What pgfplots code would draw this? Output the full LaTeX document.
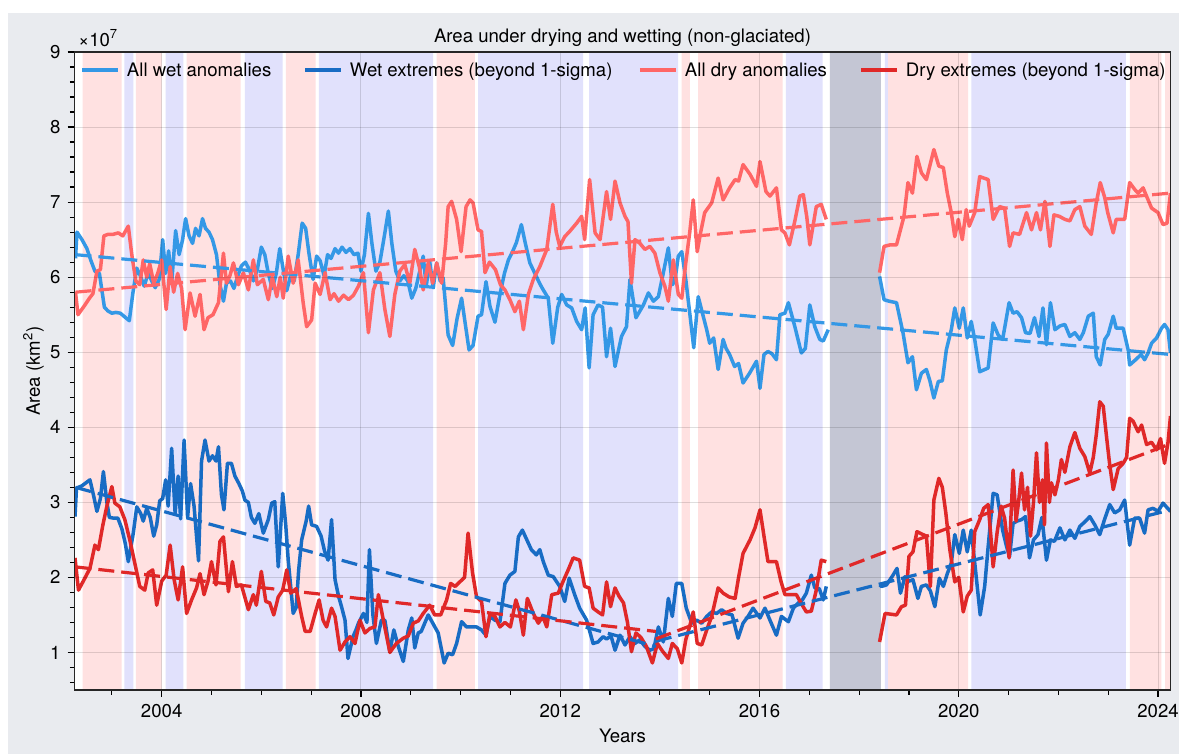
\documentclass[border=0pt]{standalone}
\usepackage{fontspec}
\setmainfont{TeX Gyre Heros}
\usepackage{pgfplots}
\usepackage{pgfplotstable}
\pgfplotsset{compat=1.18}
\definecolor{cA}{RGB}{52,152,230}
\definecolor{cB}{RGB}{24,108,196}
\definecolor{cC}{RGB}{255,102,102}
\definecolor{cD}{RGB}{224,40,40}
\definecolor{pk}{RGB}{255,225,225}
\definecolor{lv}{RGB}{225,225,252}
\definecolor{gy}{RGB}{196,198,212}
\definecolor{bgc}{RGB}{233,235,239}
\newcommand{\fs}{\fontsize{9.3}{11.2}\selectfont}
\newcommand{\region}[3]{\addplot[draw=none, fill=#3, forget plot] coordinates {(#1,0) (#1,10) (#2,10) (#2,0)} \closedcycle;}

\pgfplotstableread{
x y
2002.27 6.25
2002.30 6.60
2002.40 6.50
2002.50 6.38
2002.58 6.22
2002.66 6.08
2002.75 6.05
2002.85 5.60
2002.92 5.55
2003.00 5.52
2003.08 5.53
2003.17 5.52
2003.26 5.47
2003.35 5.42
2003.42 5.78
2003.50 6.12
2003.57 6.02
2003.65 5.88
2003.73 6.06
2003.80 5.95
2003.87 5.86
2003.95 5.97
2004.02 6.50
2004.08 6.05
2004.14 6.35
2004.20 5.92
2004.28 6.62
2004.35 6.30
2004.42 6.50
2004.48 6.78
2004.55 6.55
2004.62 6.45
2004.68 6.65
2004.75 6.55
2004.82 6.78
2004.88 6.65
2004.95 6.60
2005.02 6.50
2005.10 6.30
2005.17 5.90
2005.24 5.68
2005.30 5.92
2005.38 5.95
2005.45 5.85
2005.52 6.00
2005.60 6.15
2005.68 6.20
2005.76 6.10
2005.84 5.95
2005.92 6.10
2006.00 6.40
2006.07 6.30
2006.14 6.05
2006.22 5.85
2006.30 6.05
2006.37 6.38
2006.44 6.10
2006.51 5.82
2006.58 6.00
2006.66 5.95
2006.74 6.30
2006.82 6.72
2006.89 6.65
2006.96 6.30
2007.04 5.97
2007.11 6.28
2007.18 6.22
2007.26 6.02
2007.33 6.30
2007.40 6.25
2007.48 6.38
2007.55 6.32
2007.62 6.40
2007.70 6.33
2007.78 6.38
2007.86 6.30
2007.94 6.32
2008.00 6.08
2008.07 6.30
2008.15 6.85
2008.22 6.45
2008.30 6.08
2008.38 6.20
2008.47 6.55
2008.55 6.88
2008.62 6.45
2008.70 6.08
2008.78 5.95
2008.86 6.02
2008.94 5.95
2009.02 5.72
2009.10 5.85
2009.17 6.05
2009.25 6.28
2009.31 5.88
2009.38 6.21
2009.45 5.86
2009.52 6.19
2009.59 5.95
2009.65 5.99
2009.75 5.23
2009.84 5.09
2009.93 5.45
2010.02 5.72
2010.10 5.35
2010.17 5.03
2010.25 5.09
2010.35 5.48
2010.42 5.50
2010.51 5.94
2010.59 5.61
2010.69 5.40
2010.79 5.77
2010.88 6.05
2010.96 6.23
2011.05 6.35
2011.12 6.46
2011.22 6.70
2011.30 6.45
2011.39 6.19
2011.52 6.01
2011.60 5.90
2011.66 5.83
2011.76 5.72
2011.85 5.12
2011.95 5.60
2012.03 5.77
2012.13 5.63
2012.23 5.59
2012.33 5.41
2012.43 5.30
2012.50 5.59
2012.58 4.79
2012.66 5.50
2012.76 5.63
2012.85 5.60
2012.93 4.94
2013.01 5.32
2013.10 4.81
2013.23 5.21
2013.33 5.34
2013.40 5.97
2013.52 5.46
2013.60 5.55
2013.67 5.63
2013.77 5.79
2013.87 5.68
2013.97 5.74
2014.07 6.06
2014.17 6.39
2014.25 5.90
2014.30 5.95
2014.37 6.28
2014.44 6.34
2014.52 5.97
2014.60 5.52
2014.68 5.06
2014.77 5.74
2014.87 5.48
2014.94 5.30
2015.00 5.12
2015.08 5.19
2015.17 4.77
2015.27 5.17
2015.33 5.05
2015.40 4.97
2015.50 4.81
2015.58 4.85
2015.67 4.59
2015.80 4.72
2015.94 4.88
2016.01 4.52
2016.09 4.97
2016.17 5.01
2016.25 4.98
2016.34 4.90
2016.41 5.50
2016.51 5.52
2016.58 5.66
2016.71 5.34
2016.84 4.99
2016.92 5.05
2017.01 5.63
2017.11 5.34
2017.21 5.17
2017.28 5.15
2017.38 5.30
2017.90 nan
2018.41 6.01
2018.50 5.70
2018.60 5.68
2018.75 5.66
2018.88 5.26
2018.98 4.86
2019.07 4.94
2019.15 4.50
2019.25 4.72
2019.35 4.77
2019.42 4.62
2019.50 4.39
2019.59 4.61
2019.67 4.62
2019.75 5.03
2019.85 5.30
2019.92 5.59
2020.01 5.32
2020.09 5.59
2020.17 5.19
2020.25 5.41
2020.32 5.17
2020.42 4.74
2020.59 4.79
2020.69 5.39
2020.79 5.23
2020.88 5.17
2021.01 5.66
2021.09 5.52
2021.17 5.54
2021.26 5.46
2021.34 5.26
2021.43 5.25
2021.52 5.46
2021.61 5.21
2021.69 5.59
2021.76 5.10
2021.84 5.66
2021.93 5.30
2022.03 5.35
2022.13 5.37
2022.23 5.21
2022.33 5.26
2022.43 5.17
2022.50 5.26
2022.60 5.48
2022.70 5.52
2022.76 4.94
2022.84 4.83
2022.93 5.17
2023.00 5.24
2023.10 5.48
2023.16 5.32
2023.30 5.32
2023.40 5.03
2023.43 4.83
2023.55 4.90
2023.66 4.97
2023.73 4.90
2023.80 4.99
2023.87 5.12
2023.97 5.19
2024.07 5.32
2024.13 5.37
2024.20 5.30
2024.25 4.99
}\tA

\pgfplotstableread{
x y
2002.26 2.81
2002.29 3.19
2002.40 3.22
2002.50 3.27
2002.56 3.30
2002.63 3.10
2002.70 2.88
2002.77 3.05
2002.83 3.41
2002.90 3.00
2002.95 2.80
2003.03 2.79
2003.12 2.79
2003.20 2.65
2003.27 2.45
2003.33 2.21
2003.43 2.59
2003.50 2.94
2003.58 2.85
2003.63 2.75
2003.70 2.92
2003.77 2.80
2003.84 2.55
2003.90 2.70
2003.96 3.02
2004.02 3.05
2004.08 3.30
2004.13 2.95
2004.20 3.72
2004.27 2.85
2004.33 3.35
2004.38 2.78
2004.45 3.83
2004.52 2.80
2004.58 3.25
2004.65 2.95
2004.74 2.22
2004.80 3.55
2004.87 3.83
2004.95 3.55
2005.02 3.62
2005.09 3.55
2005.14 3.74
2005.20 3.10
2005.25 2.90
2005.32 3.52
2005.40 3.52
2005.47 3.35
2005.55 3.25
2005.62 3.15
2005.67 3.03
2005.74 3.00
2005.80 2.80
2005.87 2.72
2005.95 2.85
2006.04 2.59
2006.14 2.77
2006.21 2.99
2006.27 3.01
2006.34 2.14
2006.43 3.12
2006.49 2.70
2006.54 2.23
2006.64 1.52
2006.70 1.60
2006.75 2.10
2006.81 2.50
2006.90 2.75
2006.95 2.95
2007.01 2.70
2007.11 2.68
2007.20 2.55
2007.27 2.35
2007.34 2.23
2007.41 2.77
2007.48 1.97
2007.55 1.75
2007.61 1.61
2007.68 1.43
2007.74 0.92
2007.84 1.21
2007.90 1.30
2007.95 1.39
2008.05 1.52
2008.12 1.40
2008.17 2.37
2008.24 1.50
2008.31 1.12
2008.41 1.43
2008.48 1.43
2008.58 1.01
2008.66 1.30
2008.75 1.08
2008.85 0.88
2008.95 1.30
2009.02 1.46
2009.08 1.06
2009.15 1.26
2009.21 1.28
2009.28 1.39
2009.35 1.50
2009.45 1.38
2009.55 1.26
2009.67 0.86
2009.75 0.99
2009.84 0.97
2009.92 1.12
2010.02 1.41
2010.12 1.34
2010.22 1.34
2010.32 1.34
2010.42 1.30
2010.51 1.23
2010.59 1.48
2010.69 1.43
2010.79 1.41
2010.89 1.92
2010.99 2.03
2011.09 2.08
2011.16 2.54
2011.24 2.63
2011.33 2.50
2011.42 2.37
2011.52 2.30
2011.59 2.37
2011.66 2.21
2011.76 2.03
2011.86 2.01
2011.99 1.88
2012.09 1.68
2012.18 1.99
2012.29 1.77
2012.39 1.59
2012.53 1.43
2012.66 1.12
2012.76 1.14
2012.86 1.21
2012.93 1.18
2013.02 1.22
2013.10 1.03
2013.20 1.23
2013.30 1.10
2013.40 1.21
2013.50 1.12
2013.60 1.17
2013.70 1.08
2013.80 1.03
2013.88 1.05
2013.97 1.34
2014.07 1.14
2014.17 1.72
2014.25 1.48
2014.33 1.92
2014.44 1.92
2014.53 1.59
2014.64 1.39
2014.74 1.43
2014.84 1.39
2014.94 1.48
2015.04 1.54
2015.14 1.52
2015.24 1.57
2015.34 1.52
2015.45 1.50
2015.57 1.19
2015.67 1.39
2015.77 1.48
2015.87 1.59
2016.01 1.46
2016.11 1.59
2016.21 1.43
2016.34 1.23
2016.44 1.48
2016.58 1.41
2016.68 1.59
2016.78 1.66
2016.86 1.70
2016.94 1.79
2017.04 2.03
2017.11 1.86
2017.20 1.85
2017.28 1.70
2017.34 1.88
2017.90 nan
2018.41 1.90
2018.45 1.88
2018.55 1.90
2018.68 2.03
2018.76 2.12
2018.83 1.79
2018.92 2.01
2019.00 1.95
2019.08 1.97
2019.18 1.72
2019.25 1.88
2019.35 1.90
2019.43 1.82
2019.52 1.61
2019.61 1.99
2019.69 1.88
2019.77 2.05
2019.85 2.19
2019.92 2.57
2020.01 2.32
2020.09 2.63
2020.17 2.34
2020.25 2.63
2020.35 2.01
2020.43 1.50
2020.52 1.88
2020.59 2.41
2020.69 3.12
2020.77 3.10
2020.88 2.63
2020.96 2.41
2021.02 2.28
2021.09 2.72
2021.17 2.75
2021.26 2.77
2021.34 2.81
2021.42 2.26
2021.50 2.50
2021.59 2.57
2021.67 2.80
2021.76 2.23
2021.84 2.50
2021.92 2.48
2022.03 2.66
2022.13 2.50
2022.23 2.63
2022.33 2.52
2022.43 2.68
2022.53 2.74
2022.63 2.81
2022.73 2.70
2022.83 2.57
2022.93 2.78
2023.03 2.97
2023.13 2.86
2023.23 2.90
2023.33 3.03
2023.43 2.43
2023.53 2.79
2023.63 2.79
2023.73 2.59
2023.80 2.90
2023.90 2.92
2024.00 2.88
2024.10 2.99
2024.18 2.93
2024.25 2.88
}\tB

\pgfplotstableread{
x y
2002.27 5.80
2002.32 5.50
2002.45 5.62
2002.55 5.72
2002.62 5.78
2002.70 6.08
2002.77 6.10
2002.84 6.55
2002.92 6.57
2003.02 6.57
2003.13 6.59
2003.22 6.55
2003.33 6.68
2003.40 6.30
2003.48 5.95
2003.56 5.90
2003.63 6.23
2003.70 6.00
2003.76 6.18
2003.84 5.92
2003.92 6.05
2004.00 6.23
2004.09 5.57
2004.17 6.14
2004.24 5.80
2004.32 6.05
2004.40 5.85
2004.47 5.30
2004.57 5.79
2004.67 5.48
2004.77 5.77
2004.85 5.30
2004.93 5.46
2005.03 5.50
2005.14 5.66
2005.24 6.32
2005.30 5.92
2005.37 6.02
2005.44 6.19
2005.54 5.90
2005.64 6.06
2005.74 5.83
2005.84 6.23
2005.92 5.90
2006.04 5.97
2006.14 5.70
2006.22 6.00
2006.31 5.74
2006.38 6.00
2006.44 5.72
2006.54 6.28
2006.64 5.92
2006.74 6.23
2006.84 5.66
2006.91 5.34
2007.01 5.43
2007.08 5.92
2007.18 5.77
2007.28 6.06
2007.38 5.70
2007.46 5.78
2007.55 5.68
2007.65 5.76
2007.75 5.70
2007.85 5.76
2007.95 5.88
2008.05 6.06
2008.15 5.26
2008.25 5.83
2008.38 6.06
2008.48 5.57
2008.58 5.21
2008.68 5.77
2008.78 6.08
2008.88 6.17
2008.98 5.92
2009.08 6.37
2009.17 6.14
2009.25 5.83
2009.35 6.19
2009.44 5.92
2009.52 6.19
2009.62 5.92
2009.70 6.45
2009.75 6.94
2009.82 7.01
2009.92 6.77
2010.01 6.34
2010.11 6.94
2010.19 7.03
2010.25 6.99
2010.35 6.63
2010.42 6.61
2010.49 6.06
2010.58 6.20
2010.70 6.10
2010.80 5.90
2010.89 5.83
2010.99 5.70
2011.09 5.54
2011.18 5.68
2011.26 5.30
2011.36 5.77
2011.46 5.97
2011.59 6.14
2011.73 6.37
2011.85 6.97
2011.92 6.60
2011.99 6.41
2012.09 6.54
2012.19 6.61
2012.33 6.72
2012.43 6.81
2012.49 6.50
2012.59 7.30
2012.70 6.59
2012.80 6.50
2012.93 7.14
2013.01 6.77
2013.10 7.28
2013.20 6.99
2013.30 6.81
2013.36 6.74
2013.43 5.92
2013.50 6.50
2013.60 6.45
2013.70 6.37
2013.80 6.41
2013.90 6.32
2014.00 6.06
2014.10 5.88
2014.17 5.68
2014.27 6.23
2014.37 5.77
2014.44 5.72
2014.52 6.19
2014.60 6.60
2014.67 7.03
2014.75 6.34
2014.82 6.60
2014.90 6.86
2015.04 6.99
2015.17 7.32
2015.27 7.03
2015.40 7.19
2015.51 7.30
2015.58 7.28
2015.67 7.50
2015.81 7.37
2015.94 7.21
2016.01 7.54
2016.13 7.14
2016.21 7.08
2016.34 7.19
2016.44 6.63
2016.51 6.59
2016.60 6.43
2016.71 6.75
2016.81 7.08
2016.88 7.10
2016.95 6.80
2017.01 6.43
2017.14 6.94
2017.24 6.97
2017.34 6.77
2017.90 nan
2018.41 6.06
2018.50 6.41
2018.62 6.43
2018.75 6.43
2018.90 6.81
2018.98 7.26
2019.07 7.12
2019.16 7.61
2019.25 7.39
2019.35 7.30
2019.50 7.70
2019.60 7.48
2019.69 7.46
2019.77 7.12
2019.85 6.86
2019.92 6.54
2019.99 6.77
2020.07 6.50
2020.15 6.90
2020.21 6.68
2020.32 6.86
2020.42 7.34
2020.59 7.30
2020.69 6.77
2020.82 6.94
2020.92 6.92
2021.02 6.41
2021.09 6.59
2021.22 6.57
2021.36 6.86
2021.46 6.63
2021.56 6.86
2021.64 6.63
2021.73 7.01
2021.83 6.41
2021.91 6.83
2022.02 6.81
2022.13 6.77
2022.23 6.75
2022.33 6.90
2022.43 6.94
2022.53 6.68
2022.66 6.57
2022.76 6.99
2022.84 7.26
2022.93 7.06
2022.99 6.86
2023.10 6.59
2023.16 6.77
2023.33 6.77
2023.43 7.26
2023.53 7.17
2023.60 7.12
2023.70 7.19
2023.80 7.03
2023.87 6.92
2024.00 6.86
2024.10 6.70
2024.18 6.72
2024.25 7.12
}\tC

\pgfplotstableread{
x y
2002.26 2.26
2002.33 1.83
2002.45 1.98
2002.56 2.12
2002.66 2.43
2002.73 2.37
2002.82 2.70
2002.90 2.95
2003.00 3.21
2003.06 2.99
2003.16 2.94
2003.26 2.77
2003.36 2.50
2003.46 2.19
2003.56 1.88
2003.66 1.83
2003.73 2.06
2003.82 2.10
2003.90 1.63
2004.00 1.95
2004.09 2.03
2004.17 2.43
2004.25 1.97
2004.33 1.70
2004.42 2.14
2004.50 1.52
2004.60 1.70
2004.70 1.86
2004.77 2.05
2004.85 1.77
2004.93 1.95
2005.00 2.21
2005.09 1.90
2005.17 2.48
2005.24 2.54
2005.34 1.81
2005.42 2.21
2005.50 1.88
2005.60 1.90
2005.74 1.57
2005.84 1.77
2005.90 1.63
2006.00 2.08
2006.09 1.68
2006.17 1.66
2006.25 1.50
2006.34 1.74
2006.43 1.83
2006.51 2.10
2006.59 1.79
2006.70 1.85
2006.81 1.48
2006.88 1.28
2006.98 1.28
2007.08 1.52
2007.16 1.70
2007.24 1.43
2007.31 1.34
2007.41 1.59
2007.48 1.48
2007.58 1.03
2007.68 1.14
2007.78 1.21
2007.88 1.12
2007.98 1.43
2008.08 1.26
2008.18 1.32
2008.28 1.34
2008.35 1.77
2008.45 1.43
2008.58 1.00
2008.71 1.12
2008.85 1.19
2008.95 1.22
2009.05 1.39
2009.15 1.42
2009.25 1.52
2009.38 1.63
2009.48 1.50
2009.60 1.50
2009.72 1.70
2009.80 1.92
2009.89 1.88
2010.00 1.95
2010.08 2.00
2010.15 2.59
2010.24 2.06
2010.32 1.74
2010.42 1.68
2010.51 1.21
2010.59 1.52
2010.69 1.48
2010.79 1.34
2010.89 1.40
2011.00 1.34
2011.11 1.70
2011.18 1.55
2011.26 1.23
2011.34 1.72
2011.46 1.52
2011.56 1.39
2011.65 1.48
2011.73 1.34
2011.83 1.77
2011.96 1.79
2012.06 1.95
2012.16 2.10
2012.26 2.26
2012.39 2.23
2012.49 1.88
2012.58 1.86
2012.66 1.59
2012.76 1.54
2012.85 1.50
2012.93 1.94
2013.01 1.61
2013.10 1.86
2013.18 1.75
2013.27 1.66
2013.35 1.40
2013.43 1.01
2013.52 1.26
2013.62 1.20
2013.73 1.08
2013.85 0.86
2013.95 1.12
2014.05 1.02
2014.17 0.92
2014.25 1.12
2014.35 1.05
2014.44 0.86
2014.52 1.17
2014.60 1.35
2014.67 1.54
2014.75 1.12
2014.84 1.10
2014.94 1.30
2015.04 1.48
2015.17 1.86
2015.27 1.79
2015.39 1.74
2015.51 1.72
2015.58 2.00
2015.67 2.32
2015.81 2.50
2015.91 2.66
2016.01 2.90
2016.09 2.55
2016.17 2.21
2016.34 2.21
2016.43 1.95
2016.51 1.77
2016.62 1.77
2016.74 1.77
2016.84 1.65
2016.94 1.54
2017.04 1.55
2017.14 1.83
2017.24 2.23
2017.34 2.21
2017.90 nan
2018.41 1.14
2018.52 1.52
2018.75 1.50
2018.85 1.61
2018.93 1.63
2019.00 2.28
2019.08 2.34
2019.16 2.61
2019.25 2.58
2019.35 2.55
2019.43 1.88
2019.50 3.03
2019.60 3.32
2019.67 3.20
2019.74 2.86
2019.82 2.37
2019.92 1.94
2020.00 2.00
2020.09 1.54
2020.17 1.75
2020.25 1.83
2020.32 2.61
2020.42 2.77
2020.50 2.92
2020.59 2.97
2020.65 2.50
2020.69 2.14
2020.77 2.60
2020.85 2.95
2020.92 2.79
2021.01 2.26
2021.09 3.43
2021.15 2.75
2021.20 3.00
2021.26 3.39
2021.32 2.90
2021.38 3.20
2021.44 2.55
2021.50 3.00
2021.56 3.66
2021.62 3.00
2021.68 3.30
2021.72 2.70
2021.76 3.79
2021.82 3.00
2021.86 3.26
2021.93 3.10
2022.00 3.30
2022.06 3.57
2022.13 3.40
2022.23 3.74
2022.33 3.93
2022.43 3.72
2022.53 3.61
2022.63 3.39
2022.70 3.60
2022.76 3.90
2022.83 4.34
2022.90 4.28
2022.97 3.85
2023.03 3.50
2023.10 3.17
2023.20 3.45
2023.30 3.52
2023.37 3.60
2023.43 4.12
2023.50 4.08
2023.60 3.94
2023.67 4.03
2023.77 3.77
2023.87 3.80
2023.97 3.70
2024.05 3.85
2024.13 3.52
2024.20 3.80
2024.25 4.15
}\tD

\begin{document}
\begin{tikzpicture}
\fill[bgc] (4pt,0pt) rectangle (589.5pt,370.5pt);
\begin{axis}[
  name=ax,
  at={(37.25pt,32pt)}, anchor=south west,
  scale only axis, width=548pt, height=319pt,
  xmin=2002.25, xmax=2024.25, ymin=0.5, ymax=9,
  axis on top,
  axis background/.style={fill=white},
  xtick={2004,2008,2012,2016,2020,2024},
  minor xtick={2003,2005,2006,2007,2009,2010,2011,2013,2014,2015,2017,2018,2019,2021,2022,2023},
  ytick={1,2,3,4,5,6,7,8,9},
  minor ytick={0.6,0.8,1.2,1.4,1.6,1.8,2.2,2.4,2.6,2.8,3.2,3.4,3.6,3.8,4.2,4.4,4.6,4.8,5.2,5.4,5.6,5.8,6.2,6.4,6.6,6.8,7.2,7.4,7.6,7.8,8.2,8.4,8.6,8.8},
  tick pos=left, tick align=outside,
  major tick length=3.5pt, minor tick length=2.3pt,
  tick style={black, line width=0.6pt},
  grid=major, grid style={black, opacity=0.13, line width=0.5pt},
  axis line style={line width=0.7pt, black!85},
  /pgf/number format/assume math mode=true,
  x tick label style={/pgf/number format/1000 sep={}, font=\fs},
  y tick label style={font=\fs},
  unbounded coords=jump,
  title={Area under drying and wetting (non-glaciated)},
  every axis title shift=0pt,
  every axis title/.style={at={(0.5,1)}, anchor=base, yshift=4.5pt, font=\fs},
  xlabel={Years},
  every axis x label/.style={at={(axis description cs:0.5,0)}, anchor=base, yshift=-26.5pt, font=\fs},
  ylabel={Area (km\textsuperscript{2})},
  every axis y label/.style={at={(axis description cs:0,0.5)}, xshift=-17.25pt, rotate=90, anchor=base, font=\fs},
  legend style={at={(0,1)}, anchor=west, xshift=2.75pt, yshift=-9pt, draw=none, fill=none,
    inner sep=0pt, outer sep=0pt, font=\fs, nodes={inner sep=0pt, text height=6.7pt, text depth=0pt},
    /tikz/every odd column/.append style={column sep=3.5pt}},
  legend columns=4,
  legend image code/.code={\draw[#1, line width=2pt, solid] (0pt,0pt) -- (18pt,0pt);},
]
\region{2002.415}{2003.197}{pk}
\region{2003.249}{2003.43}{lv}
\region{2003.484}{2004.0}{pk}
\region{2004.08}{2004.433}{lv}
\region{2004.502}{2005.585}{pk}
\region{2005.672}{2006.428}{lv}
\region{2006.495}{2007.09}{pk}
\region{2007.157}{2009.45}{lv}
\region{2009.519}{2010.287}{pk}
\region{2010.354}{2012.46}{lv}
\region{2012.58}{2014.367}{lv}
\region{2014.435}{2014.601}{pk}
\region{2014.768}{2016.462}{pk}
\region{2016.528}{2017.265}{lv}
\region{2017.411}{2018.435}{gy}
\region{2018.515}{2018.582}{lv}
\region{2018.582}{2020.187}{pk}
\region{2020.255}{2023.352}{lv}
\region{2023.433}{2024.069}{pk}
\region{2024.14}{2024.3}{pk}

\addplot[cA, line width=1.75pt, line join=round] table[x=x,y=y] {\tA};
\addlegendentry{\makebox[88pt][l]{All wet anomalies}}
\addplot[cB, line width=1.75pt, line join=round] table[x=x,y=y] {\tB};
\addlegendentry{\makebox[144pt][l]{Wet extremes (beyond 1-sigma)}}
\addplot[cC, line width=1.75pt, line join=round] table[x=x,y=y] {\tC};
\addlegendentry{\makebox[87pt][l]{All dry anomalies}}
\addplot[cD, line width=1.75pt, line join=round] table[x=x,y=y] {\tD};
\addlegendentry{Dry extremes (beyond 1-sigma)}

\addplot[cA, line width=1.6pt, dash pattern=on 8pt off 3.5pt, forget plot] coordinates {(2002.27,6.30) (2024.25,4.97)};
\addplot[cB, line width=1.6pt, dash pattern=on 8pt off 3.5pt, forget plot] coordinates {(2002.27,3.20) (2013.92,1.08)};
\addplot[cB, line width=1.6pt, dash pattern=on 8pt off 3.5pt, forget plot] coordinates {(2013.92,1.15) (2024.25,2.90)};
\addplot[cC, line width=1.6pt, dash pattern=on 8pt off 3.5pt, forget plot] coordinates {(2002.27,5.80) (2024.25,7.12)};
\addplot[cD, line width=1.6pt, dash pattern=on 8pt off 3.5pt, forget plot] coordinates {(2002.27,2.14) (2013.92,1.28)};
\addplot[cD, line width=1.6pt, dash pattern=on 8pt off 3.5pt, forget plot] coordinates {(2013.92,1.18) (2024.25,3.78)};
\end{axis}
\node[anchor=base west, font=\fs, inner sep=0pt] at ([xshift=1.75pt, yshift=2.75pt]ax.north west) {×10\textsuperscript{7}};
\pgfresetboundingbox
\useasboundingbox (0,0) rectangle (589.5pt,377pt);
\end{tikzpicture}
\end{document}
